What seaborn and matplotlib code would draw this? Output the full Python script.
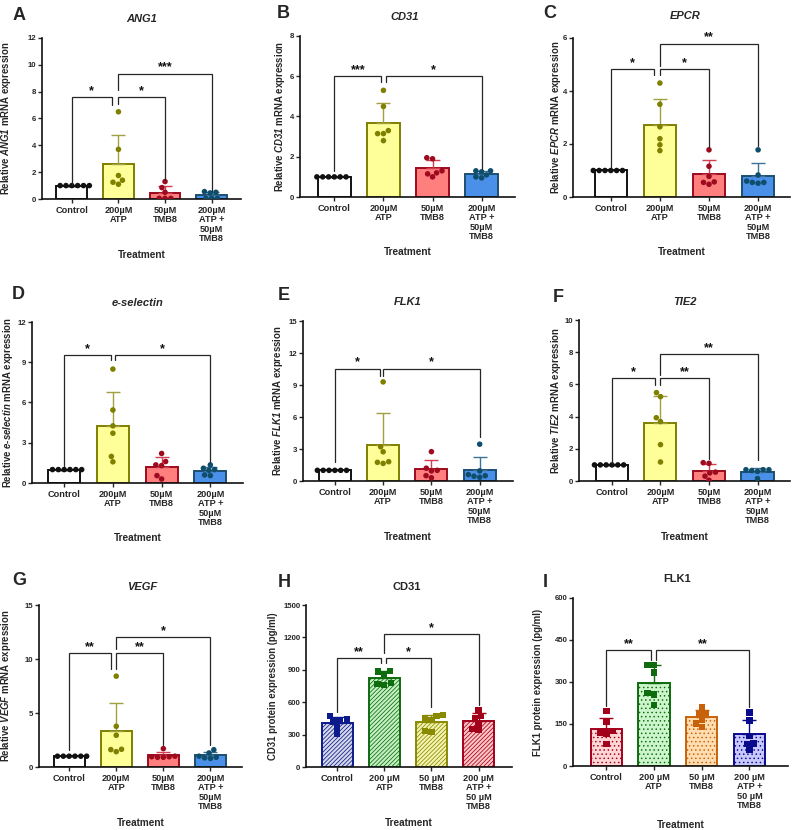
import warnings
warnings.filterwarnings("ignore")
import numpy as np
import pandas as pd
import matplotlib
matplotlib.use("Agg")
import matplotlib.pyplot as plt
import seaborn as sns

# ------------------------------------------------------------------ data
groups = ["Control", "ATP", "TMB8", "ATP+TMB8"]
labels_mrna = ["Control", "200µM\nATP", "50µM\nTMB8", "200µM\nATP +\n50µM\nTMB8"]
labels_protein = ["Control", "200 µM\nATP", "50 µM\nTMB8", "200 µM\nATP +\n50 µM\nTMB8"]

ang1 = [[1.0, 1.0, 1.0, 1.0, 1.0, 1.0],
        [6.5, 3.7, 1.75, 1.1, 1.4, 1.25],
        [1.3, 0.85, 0.5, 0.05, 0.05, 0.05],
        [0.55, 0.45, 0.5, 0.05, 0.05, 0.05]]
cd31_mrna = [[1.0, 1.0, 1.0, 1.0, 1.0, 1.0],
             [5.3, 4.5, 3.3, 3.15, 3.15, 2.8],
             [1.9, 1.95, 1.3, 1.2, 1.15, 1.0],
             [1.3, 1.3, 1.25, 1.1, 1.0, 0.95]]
epcr = [[1.0, 1.0, 1.0, 1.0, 1.0, 1.0],
        [4.3, 3.5, 2.65, 2.2, 1.97, 1.75],
        [1.78, 1.16, 0.78, 0.48, 0.57, 0.55],
        [1.78, 0.83, 0.6, 0.55, 0.55, 0.52]]
eselectin = [[1.0, 1.0, 1.0, 1.0, 1.0, 1.0],
             [8.49, 5.44, 4.26, 3.71, 1.98, 1.58],
             [2.2, 1.6, 1.35, 1.3, 0.55, 0.3],
             [1.35, 1.1, 1.0, 0.95, 0.6, 0.55]]
flk1_mrna = [[1.0, 1.0, 1.0, 1.0, 1.0, 1.0],
             [9.29, 3.21, 2.74, 1.65, 1.81, 1.75],
             [2.75, 1.2, 1.0, 0.95, 0.5, 0.3],
             [3.45, 0.95, 0.6, 0.5, 0.45, 0.35]]
tie2 = [[1.0, 1.0, 1.0, 1.0, 1.0, 1.0],
        [5.49, 5.24, 3.93, 3.69, 2.26, 1.18],
        [1.14, 1.1, 0.55, 0.5, 0.3, 0.05],
        [0.7, 0.7, 0.7, 0.65, 0.6, 0.15]]
vegf = [[1.0, 1.0, 1.0, 1.0, 1.0, 1.0],
        [8.41, 3.77, 2.94, 1.42, 1.64, 1.61],
        [1.7, 1.0, 0.95, 0.95, 0.9, 0.9],
        [1.6, 1.3, 1.0, 0.9, 0.85, 0.8]]
cd31_protein = [[470, 440, 430, 420, 370, 310],
                [890, 885, 860, 775, 770, 760],
                [473, 433, 448, 479, 325, 331],
                [530, 470, 450, 400, 350, 340]]
flk1_protein = [[196, 158, 125, 116, 119, 78],
                [360, 360, 334, 261, 255, 217],
                [211, 190, 185, 164, 152, 140],
                [191, 162, 107, 81, 78, 57]]

# significance annotations: (label, x1, x2, bracket height, left leg end, right leg end)
sig_ang1 = [("*", 0, 0.86, 7.6, 1.1, 7.0), ("*", 1.0, 2.0, 7.6, 7.1, 1.4), ("***", 1.0, 3.0, 9.35, 8.1, 0.6)]
sig_cd31 = [("***", 0, 0.96, 6.0, 1.3, 5.7), ("*", 1.05, 3.0, 6.0, 5.7, 1.4)]
sig_epcr = [("*", 0, 0.87, 4.84, 1.1, 4.6), ("*", 1.0, 2.0, 4.84, 4.6, 1.9), ("**", 1.0, 3.0, 5.79, 4.95, 1.93)]
sig_esel = [("*", 0, 0.96, 9.53, 1.24, 9.16), ("*", 1.04, 3.0, 9.53, 9.16, 1.6)]
sig_flk1 = [("*", 0, 0.94, 10.54, 1.8, 9.8), ("*", 1.0, 3.0, 10.54, 9.8, 4.15)]
sig_tie2 = [("*", 0, 0.88, 6.38, 1.14, 5.96), ("**", 1.0, 2.0, 6.38, 5.96, 1.35), ("**", 1.0, 3.0, 7.87, 6.6, 1.3)]
sig_vegf = [("**", 0, 0.89, 10.52, 1.6, 9.06), ("**", 1.0, 2.0, 10.52, 9.06, 2.07), ("*", 1.0, 3.0, 12.0, 10.9, 2.07)]
sig_cd31p = [("**", 0, 0.93, 1011, 510, 959), ("*", 1.04, 2.0, 1011, 959, 557), ("*", 1.0, 3.0, 1228, 1060, 572)]
sig_flk1p = [("**", 0, 0.94, 413, 214, 380), ("**", 1.05, 3.0, 413, 380, 211)]

# ------------------------------------------------------------------ style
sns.set_style("ticks")
plt.rcParams["font.family"] = ["Liberation Sans", "DejaVu Sans"]
plt.rcParams["font.weight"] = "bold"
plt.rcParams["mathtext.fontset"] = "custom"
plt.rcParams["mathtext.rm"] = "Liberation Sans:bold"
plt.rcParams["mathtext.bf"] = "Liberation Sans:bold"
plt.rcParams["mathtext.it"] = "Liberation Sans:italic:bold"
plt.rcParams["mathtext.bfit"] = "Liberation Sans:italic:bold"
plt.rcParams["hatch.linewidth"] = 0.55

W, H = 794, 830
fig = plt.figure(figsize=(W / 100, H / 100), dpi=100)
fig.patch.set_facecolor("white")

mrna_face = ["#FFFFFF", "#FFFF99", "#FF7F7F", "#4A90E8"]
mrna_edge = ["#111111", "#7F7F00", "#9E0A1E", "#1B4F72"]
mrna_pts = ["#111111", "#7F7F00", "#9E0A1E", "#0E4D6B"]
mrna_err = ["#111111", "#A0A040", "#D04050", "#3D7196"]

h_face = ["#D4D8E8", "#C4F0C4", "#F4F4B0", "#FFC4C4"]
h_edge = ["#0C1A8C", "#0E6B0E", "#8A8A00", "#A3001B"]

i_face = ["#FFD6D6", "#CCF5CC", "#FFDDB0", "#C8C8FF"]
i_edge = ["#A3001B", "#0E6B0E", "#C8620A", "#0A0A8C"]


def px_rect(l, t, r, b):
    return [l / W, 1 - b / H, (r - l) / W, (b - t) / H]


def fig_xy(x, y):
    return x / W, 1 - y / H


def ylab(gene):
    return "Relative " + gene + " mRNA expression"


panels = [
    dict(letter="A", lxy=(13, 16), title="ANG1", it=True, txy=(142, 19), data=ang1, sig=sig_ang1,
         rect=(42, 38, 241, 199), xlim=(-0.64, 3.63), ymax=12, step=2,
         ylabel=ylab(r"$\mathbfit{ANG1}$"), ylx=6.5, xly=255, kind="mrna"),
    dict(letter="B", lxy=(277, 13), title="CD31", it=True, txy=(405, 17), data=cd31_mrna, sig=sig_cd31,
         rect=(300, 36, 515, 197), xlim=(-0.70, 3.68), ymax=8, step=2,
         ylabel=ylab(r"$\mathbfit{CD31}$"), ylx=280, xly=252, kind="mrna"),
    dict(letter="C", lxy=(543, 13), title="EPCR", it=True, txy=(685, 16), data=epcr, sig=sig_epcr,
         rect=(573, 38, 790, 197), xlim=(-0.77, 3.65), ymax=6, step=2,
         ylabel=ylab(r"$\mathbfit{EPCR}$"), ylx=556, xly=252, kind="mrna"),
    dict(letter="D", lxy=(12, 294), title="e-selectin", it=True, txy=(138, 303), data=eselectin, sig=sig_esel,
         rect=(32, 322, 243, 483), xlim=(-0.66, 3.67), ymax=12, step=3,
         ylabel=ylab(r"$\mathbfit{e}$-$\mathbfit{selectin}$"), ylx=8, xly=538, kind="mrna"),
    dict(letter="E", lxy=(278, 296), title="FLK1", it=True, txy=(408, 302), data=flk1_mrna, sig=sig_flk1,
         rect=(303, 321, 513, 481), xlim=(-0.66, 3.69), ymax=15, step=3,
         ylabel=ylab(r"$\mathbfit{FLK1}$"), ylx=278, xly=537, kind="mrna"),
    dict(letter="F", lxy=(553, 297), title="TIE2", it=True, txy=(685, 302), data=tie2, sig=sig_tie2,
         rect=(579, 320, 790, 481), xlim=(-0.68, 3.67), ymax=10, step=2,
         ylabel=ylab(r"$\mathbfit{TIE2}$"), ylx=556, xly=537, kind="mrna"),
    dict(letter="G", lxy=(12, 580), title="VEGF", it=True, txy=(142, 587), data=vegf, sig=sig_vegf,
         rect=(39, 605, 242, 767), xlim=(-0.64, 3.67), ymax=15, step=5,
         ylabel=ylab(r"$\mathbfit{VEGF}$"), ylx=6.5, xly=823, kind="mrna"),
    dict(letter="H", lxy=(278, 582), title="CD31", it=False, txy=(407, 587), data=cd31_protein, sig=sig_cd31p,
         rect=(306, 605, 512, 767), xlim=(-0.66, 3.71), ymax=1500, step=300,
         ylabel="CD31 protein expression (pg/ml)", ylx=273, xly=823, kind="hatch"),
    dict(letter="I", lxy=(543, 582), title="FLK1", it=False, txy=(677, 579), data=flk1_protein, sig=sig_flk1p,
         rect=(573, 598, 788, 766), xlim=(-0.70, 3.81), ymax=600, step=150,
         ylabel="FLK1 protein expression (pg/ml)", ylx=538, xly=825, kind="dots"),
]


def draw(p):
    l, t, r, b = p["rect"]
    ax = fig.add_axes(px_rect(l, t, r, b))
    vals = p["data"]
    df = pd.DataFrame({
        "group": [g for g, v in zip(groups, vals) for _ in v],
        "value": [x for v in vals for x in v],
    })
    if p["kind"] == "mrna":
        face, edge, pts, err = mrna_face, mrna_edge, mrna_pts, mrna_err
        hatch, marker, msize, xl = None, "o", 4.0, labels_mrna
    elif p["kind"] == "hatch":
        face, edge, pts, err = h_face, h_edge, h_edge, h_edge
        hatch, marker, msize, xl = "////////", "s", 4.6, labels_protein
    else:
        face, edge, pts, err = i_face, i_edge, i_edge, i_edge
        hatch, marker, msize, xl = "....", "s", 4.6, labels_protein

    sns.barplot(data=df, x="group", y="value", hue="group", order=groups, hue_order=groups,
                palette=dict(zip(groups, face)), errorbar=None, width=0.66, legend=False,
                saturation=1, ax=ax, zorder=1)
    for patch in ax.patches:
        i = int(round(patch.get_x() + patch.get_width() / 2))
        patch.set_edgecolor(edge[i])
        patch.set_linewidth(1.4)
        if hatch:
            patch.set_hatch(hatch)

    stats = df.groupby("group", sort=False)["value"].agg(["mean", "std"]).reindex(groups)
    for i, g in enumerate(groups):
        ax.errorbar(i, stats.loc[g, "mean"], yerr=[[0], [stats.loc[g, "std"]]], fmt="none",
                    ecolor=err[i], elinewidth=1.0, capsize=5, capthick=1.0, zorder=3)

    sns.swarmplot(data=df, x="group", y="value", hue="group", order=groups, hue_order=groups,
                  palette=dict(zip(groups, pts)), size=msize, marker=marker, linewidth=0,
                  legend=False, ax=ax, zorder=4)

    for (txt, x1, x2, h, y1, y2) in p["sig"]:
        ax.plot([x1, x1, x2, x2], [y1, h, h, y2], color="#262626", lw=0.9, zorder=5,
                clip_on=False, solid_joinstyle="miter")
        ax.text((x1 + x2) / 2, h, txt, ha="center", va="bottom", fontsize=9,
                fontweight="bold", color="#111111")

    ax.set_xlim(*p["xlim"])
    ax.set_ylim(0, p["ymax"])
    ax.set_yticks(np.arange(0, p["ymax"] + p["step"] / 2, p["step"]))
    ax.set_xticks(range(len(groups)))
    ax.set_xticklabels(xl, fontsize=6.6, fontweight="bold", linespacing=1.05)
    ax.tick_params(axis="y", labelsize=5.6, length=3, width=1.0, pad=1.0)
    ax.tick_params(axis="x", length=3, width=1.0, pad=2)
    for lab in ax.get_yticklabels():
        lab.set_fontweight("bold")
    sns.despine(ax=ax)
    for s in ["left", "bottom"]:
        ax.spines[s].set_linewidth(1.2)
        ax.spines[s].set_color("#111111")

    ax.set_ylabel(p["ylabel"], fontsize=6.9, fontweight="bold")
    ax.yaxis.label.set_va("center")
    ax.yaxis.set_label_coords((p["ylx"] - l) / (r - l), 0.5)
    ax.set_xlabel("Treatment", fontsize=7.2, fontweight="bold")
    ax.xaxis.label.set_va("center")
    ax.xaxis.set_label_coords(0.5, -(p["xly"] - b) / (b - t))

    fx, fy = fig_xy(*p["txy"])
    fig.text(fx, fy, p["title"], ha="center", va="center", fontsize=8,
             fontweight="bold", fontstyle="italic" if p["it"] else "normal")
    lx, ly = fig_xy(*p["lxy"])
    fig.text(lx, ly, p["letter"], ha="left", va="center", fontsize=13, fontweight="bold")


for p in panels:
    draw(p)

fig.savefig("out.png", dpi=100, facecolor="white")
